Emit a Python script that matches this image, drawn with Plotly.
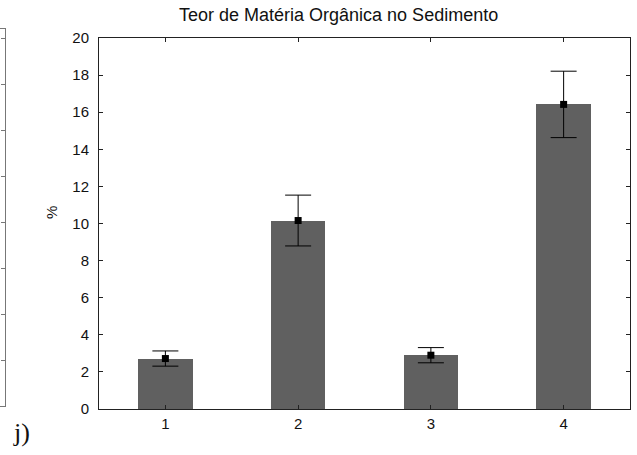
import plotly.graph_objects as go

W, H = 637, 455

# ── Data ──────────────────────────────────────────────────────────────────────
estacoes = [1, 2, 3, 4]
media_mo = [2.72, 10.16, 2.90, 16.42]   # % matéria orgânica
erro_mo = [0.41, 1.37, 0.41, 1.79]      # barras de erro (±)
y_ticks = [0, 2, 4, 6, 8, 10, 12, 14, 16, 18, 20]

FONT = "Arial, Liberation Sans, sans-serif"

# plot area in pixels (left, right, top, bottom)
PL, PR, PT, PB = 99, 630, 38, 409


def fx(px):
    return px / W


def fy(py):
    return 1 - py / H


fig = go.Figure()

fig.add_trace(go.Bar(
    x=estacoes, y=media_mo, width=0.41,
    marker=dict(color="#606060", line=dict(width=0)),
    showlegend=False,
))
fig.add_trace(go.Scatter(
    x=estacoes, y=media_mo, mode="markers",
    marker=dict(symbol="square", size=7, color="black"),
    error_y=dict(type="data", array=erro_mo, visible=True,
                 color="black", thickness=1, width=13),
    showlegend=False,
))

# fragment of the neighbouring chart on the left edge
fig.add_trace(go.Scatter(x=[0, 1], y=[-1, -1], xaxis="x2", yaxis="y2",
                         mode="lines", showlegend=False,
                         hoverinfo="skip"))

axis_common = dict(
    showline=True, linecolor="#222222", linewidth=1, mirror="ticks",
    ticks="inside", ticklen=4, tickcolor="#222222", showgrid=False,
    zeroline=False, automargin=False,
    tickfont=dict(family=FONT, size=15, color="#111111"),
)

fig.update_layout(
    width=W, height=H,
    margin=dict(l=0, r=0, t=0, b=0, pad=0),
    paper_bgcolor="white", plot_bgcolor="white",
    font=dict(family=FONT, color="#111111"),
    bargap=0,
    xaxis=dict(axis_common, range=[0.5, 4.5], tickvals=estacoes,
               domain=[fx(PL), fx(PR)], ticklabelstandoff=1),
    yaxis=dict(axis_common, range=[0, 20], tickvals=y_ticks,
               domain=[fy(PB), fy(PT)], ticklabelstandoff=6),
    xaxis2=dict(domain=[0, fx(5)], range=[0, 1], showline=True,
                mirror=True, linecolor="#777777", linewidth=1,
                showgrid=False, zeroline=False, showticklabels=False,
                ticks="", anchor="y2", automargin=False),
    yaxis2=dict(domain=[fy(406), fy(29)], range=[0, 8.2], dtick=1,
                side="right", showline=True, linecolor="#777777",
                linewidth=1, ticks="inside", ticklen=4,
                tickcolor="#777777", showgrid=False, zeroline=False,
                showticklabels=False, anchor="x2", automargin=False),
    annotations=[
        dict(text="Teor de Matéria Orgânica no Sedimento",
             x=fx(338), y=fy(15), xref="paper", yref="paper",
             xanchor="center", yanchor="middle", showarrow=False,
             font=dict(family=FONT, size=18, color="#111111")),
        dict(text="%", x=fx(51), y=fy(213), xref="paper", yref="paper",
             xanchor="center", yanchor="middle", showarrow=False,
             textangle=-90, font=dict(family=FONT, size=15, color="#111111")),
        dict(text="j)", x=fx(21), y=fy(432), xref="paper", yref="paper",
             xanchor="center", yanchor="middle", showarrow=False,
             font=dict(family="Liberation Serif, Times New Roman, serif",
                       size=26, color="#111111")),
    ],
)

# the page body has a default 8px margin; remove it so the figure fills the window
fig.write_html("out.html", config={"displayModeBar": False},
               post_script="document.body.style.margin='0';")
